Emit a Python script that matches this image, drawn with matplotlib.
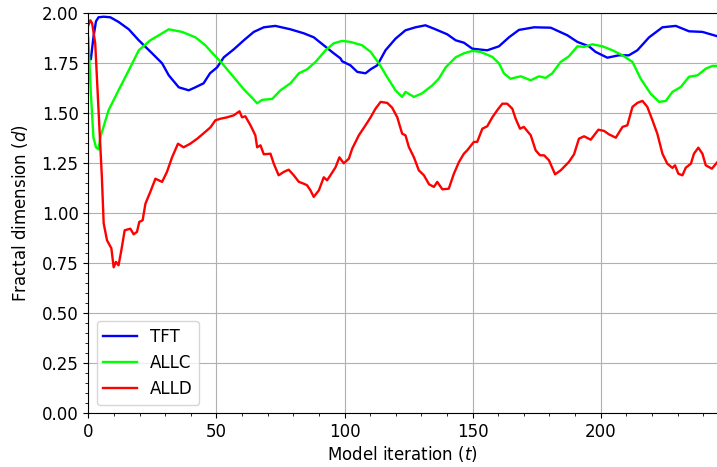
import matplotlib
matplotlib.use("Agg")
import matplotlib.pyplot as plt
from matplotlib.ticker import MultipleLocator

# TFT series
tft_t = [0, 1, 2, 3, 4, 6, 8.6, 11.8, 15.8, 19.7, 24.9, 28.8, 31.4, 35.3, 39.2, 41.8, 45, 47.5,
         50.3, 52.9, 56.8, 60.7, 64.6, 68.5, 73, 78.9, 84.1, 88, 91.9, 95.8, 98.4, 99.1, 102.3,
         105, 108.2, 110.2, 112.8, 116, 119.9, 123.8, 127.7, 131.6, 135.5, 140.1, 143.4, 146.6,
         149.9, 155.7, 160.3, 164.2, 168.1, 174, 180.5, 187, 190.9, 195.4, 198, 202.6, 207.1,
         211, 214.3, 218.9, 224.1, 229.3, 234.5, 239.7, 245.6]
tft_d = [1.80, 1.77, 1.88, 1.96, 1.98, 1.983, 1.98, 1.957, 1.92, 1.865, 1.80, 1.75, 1.69, 1.63,
         1.615, 1.63, 1.65, 1.70, 1.73, 1.78, 1.82, 1.865, 1.907, 1.93, 1.937, 1.92, 1.90, 1.88,
         1.84, 1.80, 1.775, 1.76, 1.74, 1.707, 1.70, 1.72, 1.74, 1.815, 1.873, 1.915, 1.93, 1.94,
         1.92, 1.895, 1.865, 1.853, 1.823, 1.815, 1.835, 1.88, 1.917, 1.93, 1.928, 1.89, 1.857,
         1.835, 1.807, 1.778, 1.79, 1.79, 1.815, 1.88, 1.93, 1.937, 1.91, 1.907, 1.885]

# ALLC series
allc_t = [0, 1, 2, 3, 4, 4.7, 7.9, 11.8, 15.8, 19.7, 24.2, 27.5, 31.4, 36.6, 41.8, 45.7, 48.5,
          52.2, 56.8, 60.7, 63.9, 65.9, 67.8, 71.8, 75, 78.9, 82.2, 85.4, 88.7, 92.6, 95.8, 99.1,
          102.3, 106.9, 110.2, 113.4, 116.7, 119.9, 122.5, 123.8, 127.1, 130.3, 134.3, 136.8,
          139.5, 143.4, 146.6, 149.9, 153.1, 157.7, 160.3, 162.2, 164.8, 168.8, 172.7, 175.9,
          178.5, 181.1, 184.4, 187.6, 190.9, 193.5, 196.7, 200.7, 204.6, 208.5, 212.4, 215.6,
          219.5, 222.8, 225.4, 228, 231.3, 234.5, 237.8, 241, 243.6, 245.6]
allc_d = [1.88, 1.60, 1.38, 1.33, 1.32, 1.38, 1.515, 1.615, 1.715, 1.815, 1.865, 1.89, 1.92,
          1.907, 1.88, 1.84, 1.80, 1.75, 1.68, 1.62, 1.578, 1.55, 1.567, 1.572, 1.615, 1.65,
          1.70, 1.72, 1.757, 1.815, 1.85, 1.862, 1.857, 1.84, 1.807, 1.75, 1.68, 1.615, 1.582,
          1.607, 1.582, 1.60, 1.64, 1.673, 1.73, 1.78, 1.80, 1.812, 1.807, 1.782, 1.75, 1.70,
          1.673, 1.685, 1.665, 1.685, 1.677, 1.70, 1.757, 1.785, 1.835, 1.832, 1.845, 1.835,
          1.815, 1.79, 1.757, 1.673, 1.598, 1.557, 1.562, 1.607, 1.632, 1.683, 1.69, 1.723,
          1.737, 1.737]

# ALLD series
alld_t = [0, 0.8, 1.5, 2.7, 4, 5.3, 6, 7.3, 9, 9.9, 10.8, 11.8, 12.9, 14.2, 16.4, 17.7, 19,
          19.9, 21.2, 22.3, 24.2, 26.2, 28.8, 30.7, 32.7, 35, 37.2, 39.8, 42.5, 45, 47.7, 49.6,
          51.6, 54.2, 56.8, 59, 60, 61.3, 63.3, 65.2, 65.9, 67.2, 68.5, 71.1, 72.4, 74.3, 76.3,
          78.2, 80.2, 82.2, 84.1, 85.4, 86.7, 88, 90, 91.9, 93.2, 94.5, 96.5, 98, 99.7, 101.7,
          103, 105.6, 108.2, 110.2, 112.1, 114.1, 116.7, 118.6, 120.6, 122.5, 123.8, 125.1,
          127.1, 129, 131, 133, 134.9, 136.2, 138.2, 140.7, 142.7, 144.7, 146.6, 147.9, 150.5,
          151.8, 153.8, 155.7, 157.7, 159.6, 161.6, 163.5, 165.5, 166.8, 168.5, 170, 172.7,
          174.6, 176.3, 177.9, 179.8, 182.2, 184.4, 187.6, 189.6, 191.5, 193.5, 195.4, 196.1,
          197.4, 199.1, 201.3, 203.2, 205.9, 208.5, 210.4, 212.4, 214.3, 216.3, 218.2, 220.2,
          222.1, 224.1, 226, 228, 229, 230.3, 231.9, 233.2, 235.2, 236.4, 238.1, 239.7, 241,
          243.4, 245.6]
alld_d = [1.94, 1.965, 1.95, 1.85, 1.515, 1.18, 0.95, 0.865, 0.825, 0.73, 0.757, 0.74, 0.815,
          0.915, 0.923, 0.895, 0.907, 0.957, 0.965, 1.048, 1.107, 1.173, 1.157, 1.207, 1.28,
          1.348, 1.33, 1.348, 1.373, 1.40, 1.43, 1.465, 1.473, 1.48, 1.49, 1.51, 1.48, 1.485,
          1.44, 1.39, 1.33, 1.34, 1.295, 1.298, 1.248, 1.19, 1.207, 1.218, 1.19, 1.157, 1.148,
          1.14, 1.115, 1.082, 1.115, 1.18, 1.165, 1.19, 1.23, 1.28, 1.25, 1.273, 1.323, 1.39,
          1.44, 1.48, 1.523, 1.557, 1.552, 1.528, 1.48, 1.398, 1.39, 1.332, 1.28, 1.215, 1.19,
          1.145, 1.132, 1.157, 1.12, 1.123, 1.198, 1.257, 1.298, 1.315, 1.357, 1.357, 1.423,
          1.435, 1.48, 1.515, 1.548, 1.548, 1.523, 1.473, 1.423, 1.432, 1.39, 1.315, 1.29,
          1.29, 1.265, 1.195, 1.215, 1.257, 1.295, 1.373, 1.385, 1.373, 1.368, 1.39, 1.418,
          1.412, 1.395, 1.378, 1.432, 1.44, 1.532, 1.552, 1.562, 1.532, 1.465, 1.398, 1.298,
          1.248, 1.227, 1.24, 1.198, 1.19, 1.228, 1.248, 1.298, 1.328, 1.298, 1.24, 1.223,
          1.257]

labels = ["TFT", "ALLC", "ALLD"]
colors = ["#0000ff", "#00ff00", "#ff0000"]

fig = plt.figure(figsize=(7.17, 4.67), dpi=100)
xmax = 245.3
ax = fig.add_axes([88.3 / 717, 53.7 / 467, xmax * 2.562 / 717, 400 / 467])

for t, d, lab, c in zip([tft_t, allc_t, alld_t], [tft_d, allc_d, alld_d], labels, colors):
    ax.plot(t, d, color=c, lw=1.7, label=lab)

ax.set_xlim(0, xmax)
ax.set_ylim(0, 2.0)
ax.xaxis.set_major_locator(MultipleLocator(50))
ax.xaxis.set_minor_locator(MultipleLocator(10))
ax.yaxis.set_major_locator(MultipleLocator(0.25))
ax.yaxis.set_minor_locator(MultipleLocator(0.05))
ax.grid(True, which="major", color="#b0b0b0", lw=0.8)
ax.set_axisbelow(True)
ax.spines["right"].set_visible(False)
ax.tick_params(labelsize=12)
ax.set_xlabel("Model iteration ($t$)", fontsize=12, labelpad=2)
ax.set_ylabel("Fractal dimension ($d$)", fontsize=12, labelpad=8)
ax.legend(loc="lower left", fontsize=12)

fig.savefig("out.png", dpi=100)
